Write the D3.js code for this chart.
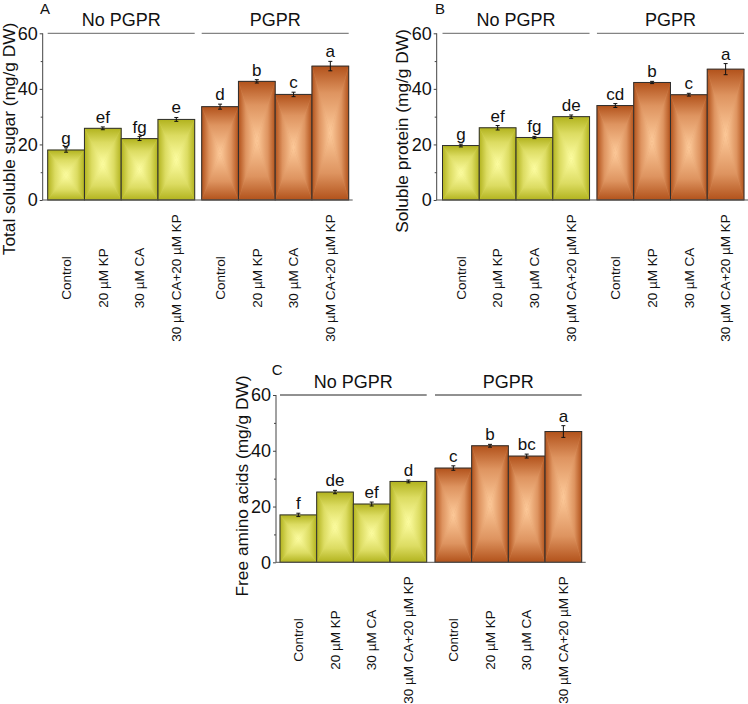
<!DOCTYPE html>
<html>
<head>
<meta charset="utf-8">
<script src="https://cdn.jsdelivr.net/npm/d3@7"></script>
<style>
  html, body { margin: 0; padding: 0; background: #fff; }
  svg { display: block; font-family: "Liberation Sans", Arial, sans-serif; }
</style>
</head>
<body>
<svg id="chart" width="748" height="704"></svg>
<script>
// ---------- data ----------
const categories = ["Control", "20 µM KP", "30 µM CA", "30 µM CA+20 µM KP"];
const groups = ["No PGPR", "PGPR"];
const yTicks = [0, 20, 40, 60];
const yMinorTicks = [10, 30, 50];

const sugarNoPGPR = [18.0, 25.8, 22.1, 29.0];
const sugarNoPGPRErr = [0.8, 0.5, 0.7, 0.7];
const sugarPGPR = [33.6, 42.7, 38.0, 48.2];
const sugarPGPRErr = [0.9, 0.6, 0.8, 1.7];
const sugarLetters = ["g", "ef", "fg", "e", "d", "b", "c", "a"];

const proteinNoPGPR = [19.6, 26.0, 22.5, 30.0];
const proteinNoPGPRErr = [0.5, 0.8, 0.4, 0.6];
const proteinPGPR = [34.0, 42.3, 37.9, 47.1];
const proteinPGPRErr = [0.7, 0.4, 0.5, 2.0];
const proteinLetters = ["g", "ef", "fg", "de", "cd", "b", "c", "a"];

const aminoNoPGPR = [17.0, 25.2, 20.9, 29.0];
const aminoNoPGPRErr = [0.6, 0.6, 0.7, 0.5];
const aminoPGPR = [33.8, 41.8, 38.1, 46.9];
const aminoPGPRErr = [0.8, 0.5, 0.7, 2.1];
const aminoLetters = ["f", "de", "ef", "d", "c", "b", "bc", "a"];

// ---------- styles ----------
const palette = {
  "No PGPR": { edge: "#b2b31e", mid: "#dcdc62", center: "#fdfda2" },
  "PGPR":    { edge: "#b2521b", mid: "#de9460", center: "#fdca9a" }
};
const FONT = "Liberation Sans, Arial, sans-serif";

const svg = d3.select("#chart");
const defs = svg.append("defs");

// rectangular ("box") gradient made of 4 triangles, each with its own linear gradient
const dirs = {
  top:    { x1: 0, y1: 0, x2: 0, y2: 1 },
  bottom: { x1: 0, y1: 1, x2: 0, y2: 0 },
  left:   { x1: 0, y1: 0, x2: 1, y2: 0 },
  right:  { x1: 1, y1: 0, x2: 0, y2: 0 }
};
groups.forEach((g, gi) => {
  const c = palette[g];
  Object.entries(dirs).forEach(([k, d]) => {
    const lg = defs.append("linearGradient")
      .attr("id", `grad-${gi}-${k}`)
      .attr("x1", d.x1).attr("y1", d.y1).attr("x2", d.x2).attr("y2", d.y2);
    lg.append("stop").attr("offset", 0).attr("stop-color", c.edge);
    lg.append("stop").attr("offset", 0.4).attr("stop-color", c.mid);
    lg.append("stop").attr("offset", 1).attr("stop-color", c.center);
  });
});

function panel(cfg) {
  const g = svg.append("g");
  const vals = cfg.noPGPR.concat(cfg.pgpr);
  const errs = cfg.noPGPRErr.concat(cfg.pgprErr);
  const data = vals.map((v, i) => ({
    group: groups[Math.floor(i / 4)],
    gi: Math.floor(i / 4),
    cat: categories[i % 4],
    value: v,
    err: errs[i],
    letter: cfg.letters[i]
  }));

  const span = cfg.xRange[1] - cfg.xRange[0];
  const step = (span + cfg.gap) / 2;
  const xOuter = d3.scaleBand().domain(groups).range(cfg.xRange)
    .paddingInner(cfg.gap / step).paddingOuter(0);
  const xInner = d3.scaleBand().domain(categories).range([0, xOuter.bandwidth()]).padding(0);
  const y = d3.scaleLinear().domain([0, 60]).range(cfg.yRange);

  // bars
  data.forEach(d => {
    const x0 = xOuter(d.group) + xInner(d.cat);
    const w = xInner.bandwidth();
    const y0 = y(d.value), y1 = y(0);
    const cx = x0 + w / 2, cy = (y0 + y1) / 2;
    const bg = g.append("g");
    bg.append("rect").attr("x", x0).attr("y", y0).attr("width", w).attr("height", y1 - y0)
      .attr("fill", palette[d.group].mid);
    const tri = {
      top: [[x0, y0], [x0 + w, y0], [cx, cy]],
      bottom: [[x0, y1], [x0 + w, y1], [cx, cy]],
      left: [[x0, y0], [x0, y1], [cx, cy]],
      right: [[x0 + w, y0], [x0 + w, y1], [cx, cy]]
    };
    Object.entries(tri).forEach(([k, pts]) => {
      bg.append("polygon").attr("points", pts.map(p => p.join(",")).join(" "))
        .attr("fill", `url(#grad-${d.gi}-${k})`)
        .attr("stroke", `url(#grad-${d.gi}-${k})`).attr("stroke-width", 0.3);
    });
    bg.append("rect").attr("x", x0).attr("y", y0).attr("width", w).attr("height", y1 - y0)
      .attr("fill", "none").attr("stroke", "#2e2e2e").attr("stroke-width", 1);

    // error bar
    const ex = cx;
    const et = y(d.value + d.err), eb = y(d.value - d.err);
    g.append("line").attr("x1", ex).attr("x2", ex).attr("y1", et).attr("y2", eb)
      .attr("stroke", "#111").attr("stroke-width", 1);
    [et, eb].forEach(yy => g.append("line").attr("x1", ex - 2).attr("x2", ex + 2)
      .attr("y1", yy).attr("y2", yy).attr("stroke", "#111").attr("stroke-width", 1));

    // significance letter
    g.append("text").attr("x", cx).attr("y", et - 4)
      .attr("text-anchor", "middle").attr("font-size", 17).attr("fill", "#111")
      .text(d.letter);

    // category label
    g.append("text")
      .attr("transform", `translate(${cx},${cfg.labelY}) rotate(-90)`)
      .attr("text-anchor", "middle").attr("dy", "0.35em")
      .attr("font-size", 13.5).attr("fill", "#111")
      .text(d.cat);
  });

  // x axis baseline
  g.append("line").attr("x1", cfg.axisX).attr("x2", cfg.xRange[1] + 4)
    .attr("y1", y(0)).attr("y2", y(0)).attr("stroke", "#555").attr("stroke-width", 1);

  // y axis
  const yAxis = d3.axisLeft(y).tickValues(yTicks).tickSize(3).tickPadding(2)
    .tickFormat(d3.format("d"));
  const ya = g.append("g").attr("transform", `translate(${cfg.axisX},0)`).call(yAxis);
  ya.select(".domain").attr("stroke", "#444").attr("d", `M-0,${y(0)}V${y(60)}`);
  ya.selectAll(".tick line").attr("stroke", "#444");
  ya.selectAll(".tick text").attr("font-size", 18).attr("font-family", FONT).attr("fill", "#111");
  const yMinor = d3.axisLeft(y).tickValues(yMinorTicks).tickSize(2).tickFormat("");
  const ym = g.append("g").attr("transform", `translate(${cfg.axisX},0)`).call(yMinor);
  ym.select(".domain").remove();
  ym.selectAll(".tick line").attr("stroke", "#444");

  // y title
  g.append("text")
    .attr("transform", `translate(${cfg.titleX},${cfg.titleY}) rotate(-90)`)
    .attr("text-anchor", "middle").attr("font-size", 17.3).attr("fill", "#111")
    .text(cfg.title);

  // group lines and labels
  groups.forEach(gr => {
    const gx0 = xOuter(gr), gx1 = gx0 + xOuter.bandwidth();
    g.append("line").attr("x1", gx0).attr("x2", gx1).attr("y1", y(60)).attr("y2", y(60))
      .attr("stroke", cfg.groupLineColor).attr("stroke-width", 1);
    g.append("text").attr("x", (gx0 + gx1) / 2).attr("y", y(60) - 7)
      .attr("text-anchor", "middle").attr("font-size", 18).attr("fill", "#111")
      .text(gr);
  });

  // panel letter
  g.append("text").attr("x", cfg.letterPos[0]).attr("y", cfg.letterPos[1])
    .attr("font-size", 15).attr("fill", "#111").text(cfg.panel);
}

panel({
  panel: "A", title: "Total soluble sugar (mg/g DW)",
  noPGPR: sugarNoPGPR, noPGPRErr: sugarNoPGPRErr, pgpr: sugarPGPR, pgprErr: sugarPGPRErr,
  letters: sugarLetters,
  axisX: 42.7, xRange: [47.7, 348.7], gap: 7, yRange: [200, 33.3],
  titleX: 15, titleY: 139, labelY: 278, letterPos: [40, 14], groupLineColor: "#666"
});
panel({
  panel: "B", title: "Soluble protein (mg/g DW)",
  noPGPR: proteinNoPGPR, noPGPRErr: proteinNoPGPRErr, pgpr: proteinPGPR, pgprErr: proteinPGPRErr,
  letters: proteinLetters,
  axisX: 436.7, xRange: [442.5, 744], gap: 7.4, yRange: [200, 33.3],
  titleX: 407.5, titleY: 131, labelY: 278, letterPos: [435, 14], groupLineColor: "#666"
});
panel({
  panel: "C", title: "Free amino acids (mg/g DW)",
  noPGPR: aminoNoPGPR, noPGPRErr: aminoNoPGPRErr, pgpr: aminoPGPR, pgprErr: aminoPGPRErr,
  letters: aminoLetters,
  axisX: 276, xRange: [280, 581.7], gap: 8.3, yRange: [562.3, 395],
  titleX: 248, titleY: 486, labelY: 640, letterPos: [271.7, 375], groupLineColor: "#222"
});
</script>
</body>
</html>
